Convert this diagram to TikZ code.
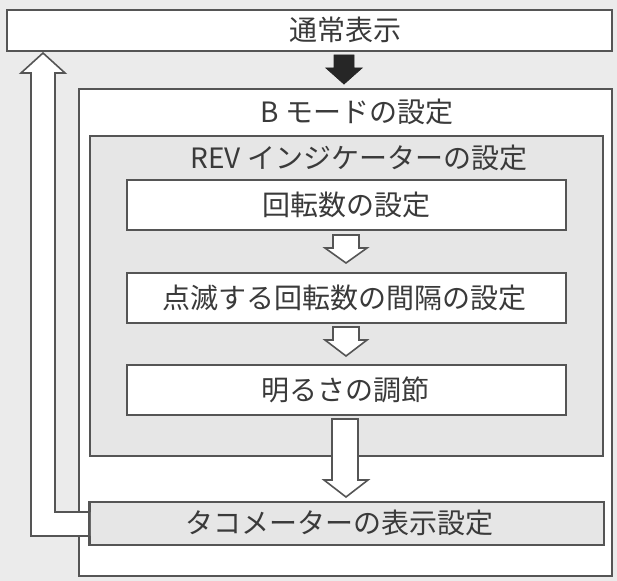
\documentclass[tikz,border=0pt]{standalone}
\usepackage{fontspec}
\newfontfamily\jp{Noto Sans CJK JP}
\usetikzlibrary{fit}
\definecolor{bg}{HTML}{EBEBEB}
\definecolor{boxgrey}{HTML}{E6E6E6}
\definecolor{edge}{HTML}{555555}
\definecolor{txt}{HTML}{3A3A3A}
\begin{document}
\begin{tikzpicture}[x=0.75pt,y=-0.75pt,
  whitebox/.style={draw=edge,line width=1.5pt,fill=white,inner sep=0pt},
  greybox/.style={draw=edge,line width=1.5pt,fill=boxgrey,inner sep=0pt},
  label/.style={font=\jp\fontsize{21pt}{24pt}\selectfont,text=txt,inner sep=0pt},
  hollow/.style={draw=edge,line width=1.2pt,fill=white,line join=miter},
  solidarrow/.style={fill=black!85,draw=black!85,line width=0.6pt}]
\fill[bg] (0,0) rectangle (617,581);
\useasboundingbox (0,0) rectangle (617,581);
% boxes
\node[whitebox,fit={(7,10)(612,51)}] (top) {};
\node[whitebox,fit={(79,89)(612,576)}] (bmode) {};
\node[greybox,fit={(90,136)(603,456)}] (rev) {};
\node[whitebox,fit={(127,180)(566,230)}] (rpm) {};
\node[whitebox,fit={(127,273)(566,323)}] (blink) {};
\node[whitebox,fit={(127,365)(566,415)}] (bright) {};
\node[greybox,fit={(90,502)(604,545)}] (tacho) {};
% labels
\node[label] (ttop) at (345,30) {通常表示};
\node[label] (tbmode) at (357,112) {B モードの設定};
\node[label] (trev) at (359,158) {REV インジケーターの設定};
\node[label] (trpm) at (346,205) {回転数の設定};
\node[label] (tblink) at (344,298) {点滅する回転数の間隔の設定};
\node[label] (tbright) at (345,390) {明るさの調節};
\node[label] (ttacho) at (339,523) {タコメーターの表示設定};
% black arrow top -> B mode
\fill[solidarrow] (334,55) -- (354,55) -- (354,68) -- (362,68) -- (344,84) -- (326,68) -- (334,68) -- cycle;
% small hollow arrows
\draw[hollow] (333,235) -- (359,235) -- (359,248) -- (367,248) -- (346,263) -- (325,248) -- (333,248) -- cycle;
\draw[hollow] (333,327) -- (359,327) -- (359,340) -- (367,340) -- (346,356) -- (325,340) -- (333,340) -- cycle;
% big hollow arrow bright -> tacho
\draw[hollow] (332,419) -- (358,419) -- (358,480) -- (368,480) -- (346,497) -- (324,480) -- (332,480) -- cycle;
% return arrow tacho -> top
\fill[white] (90,512) -- (55,512) -- (55,73) -- (65,73) -- (43,53) -- (21,73) -- (31,73) -- (31,536) -- (90,536) -- cycle;
\draw[hollow,fill=none] (90,512) -- (55,512) -- (55,73) -- (65,73) -- (43,53) -- (21,73) -- (31,73) -- (31,536) -- (90,536);
\draw[edge,line width=1.5pt] (tacho.north west) -- (tacho.south west);
\end{tikzpicture}
\end{document}
